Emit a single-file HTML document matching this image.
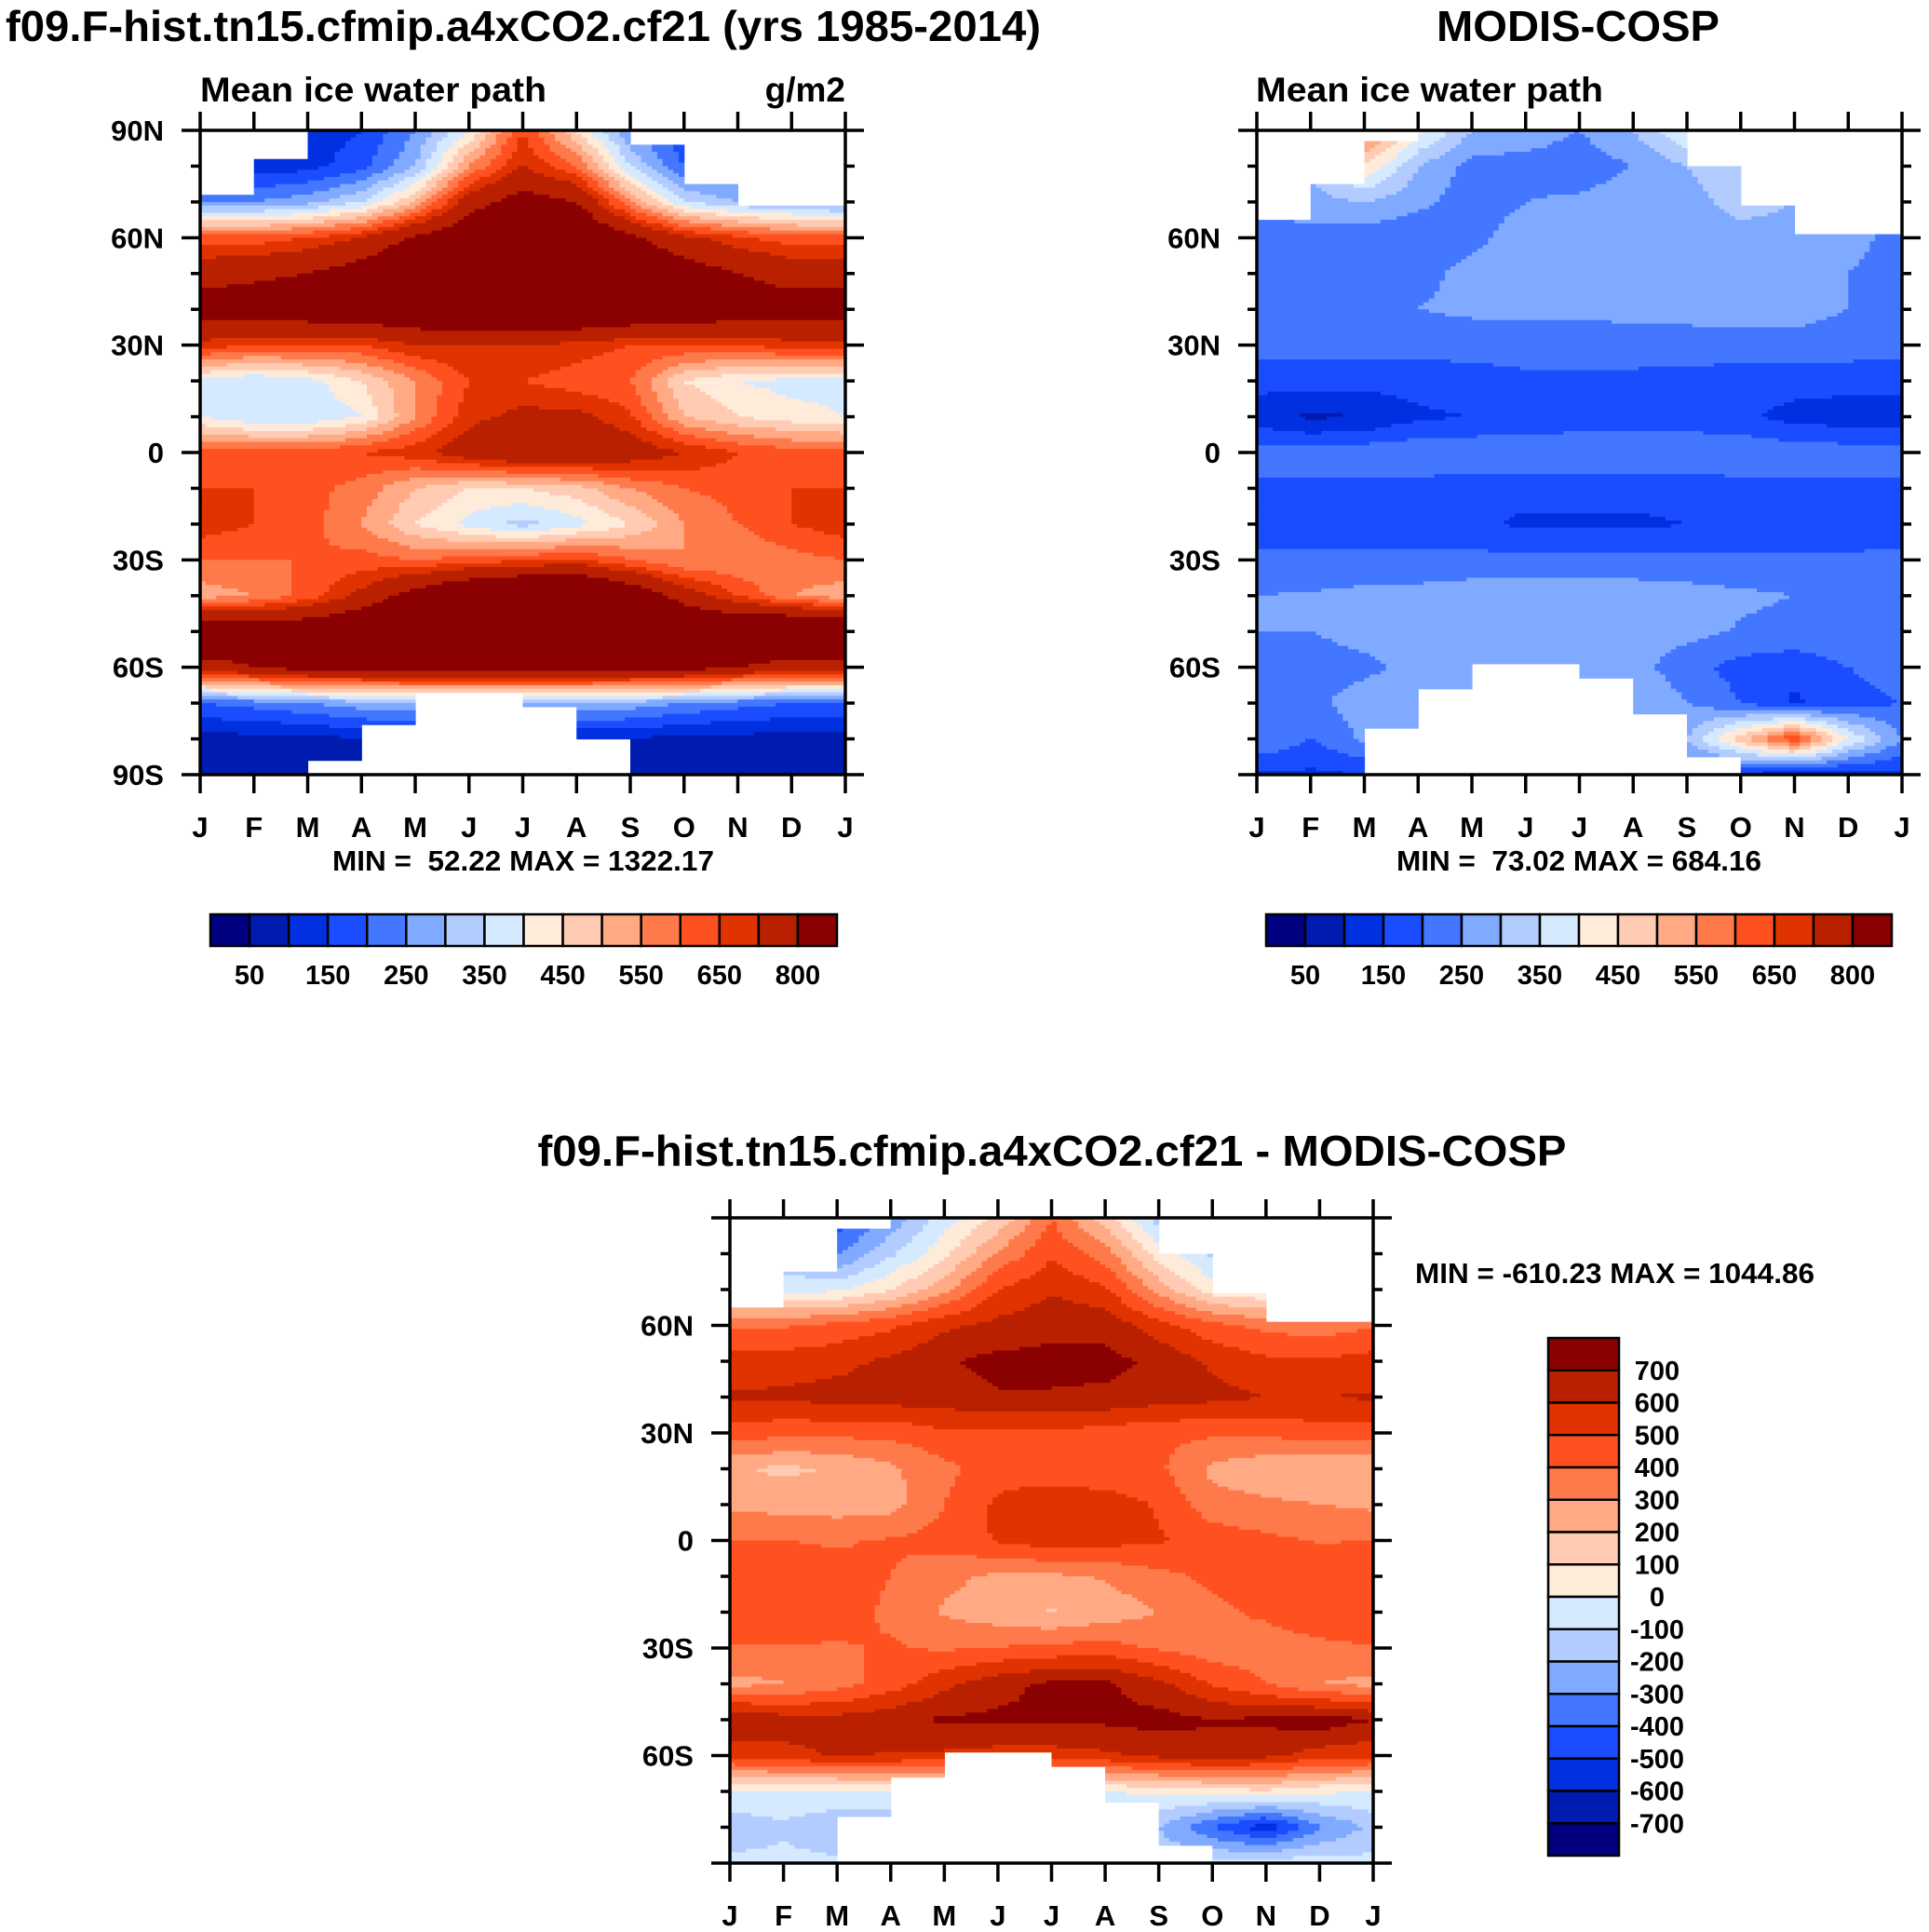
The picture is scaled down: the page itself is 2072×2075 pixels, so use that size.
<!DOCTYPE html>
<html><head><meta charset="utf-8">
<style>
html,body{margin:0;padding:0;background:#fff;}
svg{display:block;}
text{font-family:"Liberation Sans",Arial,sans-serif;font-weight:bold;fill:#000;white-space:pre;}
</style></head>
<body>
<svg id="fig" width="2072" height="2075" viewBox="0 0 2072 2075" xmlns="http://www.w3.org/2000/svg">
<rect x="0" y="0" width="2072" height="2075" fill="#fff"/>
<text x="6" y="44" font-size="46" textLength="1112" lengthAdjust="spacingAndGlyphs">f09.F-hist.tn15.cfmip.a4xCO2.cf21 (yrs 1985-2014)</text>
<text x="1695" y="44" font-size="46" text-anchor="middle" textLength="304" lengthAdjust="spacingAndGlyphs">MODIS-COSP</text>
<text x="215" y="109" font-size="37" textLength="372" lengthAdjust="spacingAndGlyphs">Mean ice water path</text>
<text x="908" y="109" font-size="37" text-anchor="end">g/m2</text>
<text x="1349" y="109" font-size="37" textLength="373" lengthAdjust="spacingAndGlyphs">Mean ice water path</text>
<text x="1130" y="1252" font-size="46" text-anchor="middle" textLength="1105" lengthAdjust="spacingAndGlyphs">f09.F-hist.tn15.cfmip.a4xCO2.cf21 - MODIS-COSP</text>
<text x="357" y="935" font-size="31" textLength="410" lengthAdjust="spacingAndGlyphs" xml:space="preserve">MIN =  52.22 MAX = 1322.17</text>
<text x="1500" y="935" font-size="31" textLength="392" lengthAdjust="spacingAndGlyphs" xml:space="preserve">MIN =  73.02 MAX = 684.16</text>
<text x="1520" y="1378" font-size="31" textLength="429" lengthAdjust="spacingAndGlyphs">MIN = -610.23 MAX = 1044.86</text>
</svg>
<script>
// ---- data ----
const months = ["J","F","M","A","M","J","J","A","S","O","N","D","J"];
const lats = [90,80,70,60,50,40,30,20,10,0,-10,-20,-30,-40,-50,-60,-70,-80,-90];
const levels = [50,100,150,200,250,300,350,400,450,500,550,600,650,700,800];
const levelLabels = ["50","150","250","350","450","550","650","800"];
const diffLevels = [-700,-600,-500,-400,-300,-200,-100,0,100,200,300,400,500,600,700];
const diffLabels = ["700","600","500","400","300","200","100","0","-100","-200","-300","-400","-500","-600","-700"];
const palette = ["#000080","#001bb0","#0030e0","#1a4dff","#4477ff","#80aaff","#b3ccff","#d6eaff","#ffebd9","#ffcbb3","#ffaa85","#ff7a4a","#ff5020","#e03300","#b82000","#8b0000"];
// model ice water path (rows = lats, cols = J..D)
const modelIWP = [
[100,100,120,150,250,400,650,450,250,150,150,150],
[120,120,130,180,300,550,700,600,350,200,200,200],
[250,250,280,350,500,750,850,800,550,350,300,280],
[620,620,650,700,820,900,950,950,820,720,660,620],
[760,780,800,860,950,1000,1000,1000,950,860,800,760],
[850,860,880,900,920,950,950,950,920,900,870,850],
[680,650,650,650,700,700,700,680,650,650,650,680],
[380,350,380,450,550,650,650,620,600,450,400,380],
[400,350,350,400,550,680,720,720,660,500,450,420],
[620,620,620,650,680,750,800,780,750,700,650,620],
[650,650,620,580,500,450,450,480,550,600,620,650],
[680,650,620,550,450,380,330,380,450,550,600,650],
[600,600,600,620,600,620,640,660,600,550,550,580],
[520,550,620,720,850,950,1000,1000,900,750,650,550],
[950,900,900,950,1000,1000,1000,1000,1000,950,950,1000],
[750,800,850,850,850,850,850,850,850,850,800,750],
[200,220,250,280,300,300,300,300,280,250,220,200],
[80,80,80,100,100,100,100,100,100,80,80,80],
[70,70,70,80,80,80,80,80,80,70,70,70]];
// MODIS-COSP ice water path
const obsIWP = [
[300,300,600,420,300,280,250,300,400,300,300,300],
[280,300,450,300,230,230,220,250,300,320,300,300],
[260,280,300,260,230,250,260,280,290,310,300,290],
[230,230,220,220,240,270,280,280,280,290,290,270],
[220,230,230,240,260,270,270,270,270,280,280,250],
[240,240,240,250,260,260,260,270,270,270,270,250],
[220,220,220,220,220,220,220,220,225,230,230,225],
[170,170,170,170,180,190,190,190,180,175,175,170],
[120,90,100,140,150,160,170,170,170,160,130,120],
[220,220,230,240,240,240,240,240,240,240,230,225],
[190,190,185,180,175,170,170,170,175,180,185,190],
[180,180,170,170,160,140,140,140,150,170,180,180],
[210,210,210,210,215,215,215,215,215,210,205,205],
[250,255,265,270,280,280,280,280,270,260,250,250],
[250,250,265,275,285,285,285,280,265,245,230,240],
[220,230,240,260,270,290,290,270,220,180,170,200],
[200,240,270,280,300,300,300,300,250,200,140,180],
[250,200,260,300,300,300,300,300,300,480,650,400],
[140,140,150,200,200,200,200,200,200,150,100,120]];
// missing-data limits per month interval
const modelNorth = [72,82,90,90,90,90,90,90,86,75,69,69];
const modelSouth = [-90,-90,-86,-76,-67,-67,-71,-80,-90,-90,-90,-90];
const obsNorth = [65,75,87,90,90,90,90,90,80,69,61,61];
const obsSouth = [-90,-90,-77,-66,-59,-59,-63,-73,-85,-90,-90,-90];

const NS="http://www.w3.org/2000/svg";
const svg=document.getElementById('fig');
function mk(tag,attrs,parent){const e=document.createElementNS(NS,tag);for(const k in attrs)e.setAttribute(k,attrs[k]);(parent||svg).appendChild(e);return e;}

function sample(grid,t,lat){
  const r=(90-lat)/10;let i0=Math.floor(r);if(i0>=lats.length-1)i0=lats.length-2;if(i0<0)i0=0;const fr=r-i0;
  let c0=Math.floor(t);if(c0>11)c0=11;const fc=t-c0;const c1=(c0+1)%12;
  const a=grid[i0][c0]*(1-fc)+grid[i0][c1]*fc;
  const b=grid[i0+1][c0]*(1-fc)+grid[i0+1][c1]*fc;
  return a*(1-fr)+b*fr;
}
function level(v,lv){let k=0;while(k<lv.length&&v>=lv[k])k++;return k;}

function drawPanel(name,L,T,W,H,valFn,north,south,lv,yLabels){
  const xS=t=>L+t/12*W, yS=lat=>T+(90-lat)/180*H;
  const g=mk('g',{}); 
  
  
  const NX=120, NY=180;
  for(let j=0;j<NY;j++){
    const latTop=90-j, latC=latTop-0.5;
    let runStart=0, runCol=null;
    const flush=(end)=>{ if(runCol){ const r=mk('rect',{x:xS(runStart*12/NX).toFixed(2),y:yS(latTop).toFixed(2),width:(xS(end*12/NX)-xS(runStart*12/NX)+0.6).toFixed(2),height:(H/180+0.6).toFixed(2),fill:runCol},g);
      
       } };
    for(let i=0;i<NX;i++){
      const t=(i+0.5)*12/NX; const m=Math.floor(t);
      let col=null;
      if(!(latC>north[m]||latC<south[m])) col=palette[level(valFn(t,latC),lv)];
      if(col!==runCol){flush(i);runStart=i;runCol=col;}
    }
    flush(NX);
  }
  const ax=mk('g',{stroke:'#000','stroke-width':3.5,fill:'none'});
  
  
  mk('rect',{x:L,y:T,width:W,height:H},ax);
  for(let lat=90;lat>=-90;lat-=10){
    const y=yS(lat), major=(lat%30===0), len=major?20:10;
    mk('line',{x1:L-len,y1:y,x2:L,y2:y},ax);
    mk('line',{x1:L+W,y1:y,x2:L+W+len,y2:y},ax);
    if(major && (yLabels || Math.abs(lat)!==90)){
      const lab=lat===0?'0':(Math.abs(lat)+(lat>0?'N':'S'));
      const tx=mk('text',{x:L-39,y:y+11,'font-size':31,'text-anchor':'end'});
      tx.textContent=lab;
      
      
    }
  }
  for(let m=0;m<=12;m++){
    const x=xS(m);
    mk('line',{x1:x,y1:T-20,x2:x,y2:T},ax);
    mk('line',{x1:x,y1:T+H,x2:x,y2:T+H+20},ax);
    const tx=mk('text',{x:x,y:T+H+67,'font-size':31,'text-anchor':'middle'});
    tx.textContent=months[m];
    
    
  }
}
function hBar(name,L,T,W,H){
  const g=mk('g',{});
  
  
  const bw=W/palette.length;
  palette.forEach((c,i)=>{const r=mk('rect',{x:L+i*bw,y:T,width:bw,height:H,fill:c,stroke:'#000','stroke-width':2.5},g);
    
    });
  levelLabels.forEach((s,k)=>{const t=mk('text',{x:L+(2*k+1)*bw,y:T+H+41,'font-size':29,'text-anchor':'middle'},g);t.textContent=s;
    
    });
}
const mN=modelNorth, mS=modelSouth;
drawPanel('model-panel',215,140,693,692,(t,l)=>sample(modelIWP,t,l),mN,mS,levels,true);
drawPanel('obs-panel',1350,140,693,692,(t,l)=>sample(obsIWP,t,l),obsNorth,obsSouth,levels,false);
const dN=mN.map((v,i)=>Math.min(v,obsNorth[i])), dS=mS.map((v,i)=>Math.max(v,obsSouth[i]));
drawPanel('diff-panel',784,1308,691,693,(t,l)=>sample(modelIWP,t,l)-sample(obsIWP,t,l),dN,dS,diffLevels,false);
hBar('model-colorbar',226,982,673,34);
hBar('obs-colorbar',1360,982,672,34);
// vertical colorbar
(function(){
  const g=mk('g',{});
  
  
  const L=1663,T=1437,W=76,H=556,bh=H/16;
  for(let i=0;i<16;i++){const r=mk('rect',{x:L,y:T+i*bh,width:W,height:bh,fill:palette[15-i],stroke:'#000','stroke-width':2.5},g);
    
    }
  diffLabels.forEach((s,k)=>{const t=mk('text',{x:1780,y:T+(k+1)*bh+10,'font-size':29,'text-anchor':'middle'},g);t.textContent=s;
    
    });
})();
</script>
</body></html>
